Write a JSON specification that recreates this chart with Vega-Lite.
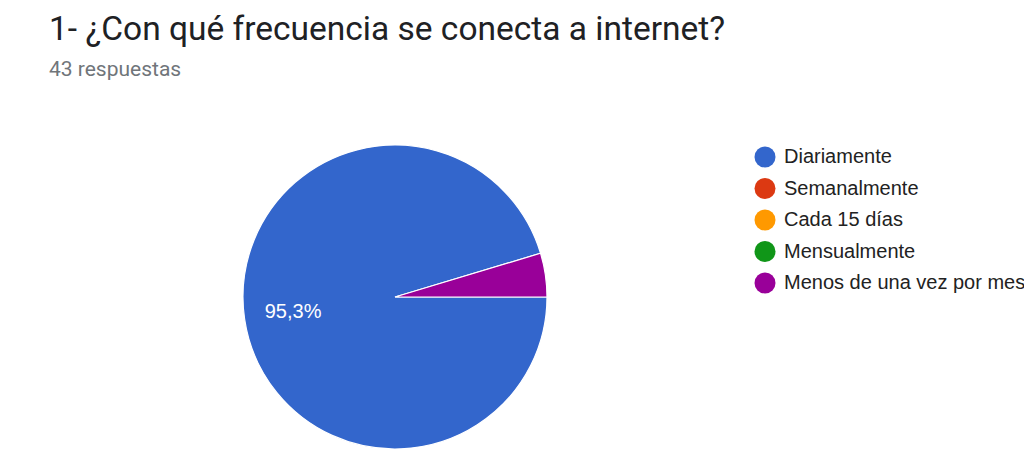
{
  "$schema": "https://vega.github.io/schema/vega-lite/v6.json",
  "width": 304,
  "height": 304,
  "autosize": {"type": "none"},
  "padding": {"left": 243, "top": 145, "right": 477, "bottom": 1},
  "background": "white",
  "config": {"view": {"stroke": null}},
  "title": {
    "text": "1- ¿Con qué frecuencia se conecta a internet?",
    "subtitle": "43 respuestas",
    "anchor": "start",
    "frame": "group",
    "dx": -194,
    "offset": 62,
    "font": "Roboto",
    "fontSize": 33.5,
    "fontWeight": "normal",
    "color": "#202124",
    "subtitleFont": "Roboto",
    "subtitleFontSize": 21,
    "subtitleColor": "#70757a",
    "subtitlePadding": 11
  },
  "data": {
    "values": [
      {"respuesta": "Diariamente", "n": 41, "orden": 1, "etiqueta": "95,3%"},
      {"respuesta": "Semanalmente", "n": 0, "orden": 2, "etiqueta": ""},
      {"respuesta": "Cada 15 días", "n": 0, "orden": 3, "etiqueta": ""},
      {"respuesta": "Mensualmente", "n": 0, "orden": 4, "etiqueta": ""},
      {"respuesta": "Menos de una vez por mes", "n": 2, "orden": 5, "etiqueta": ""}
    ]
  },
  "encoding": {
    "theta": {"field": "n", "type": "quantitative", "stack": true, "scale": {"range": [1.5708, 7.8540]}},
    "order": {"field": "orden", "type": "quantitative"},
    "color": {
      "field": "respuesta",
      "type": "nominal",
      "scale": {
        "domain": ["Diariamente", "Semanalmente", "Cada 15 días", "Mensualmente", "Menos de una vez por mes"],
        "range": ["#3366cc", "#dc3912", "#ff9900", "#109618", "#990099"]
      },
      "legend": {
        "title": null,
        "orient": "right",
        "offset": 206,
        "symbolType": "circle",
        "symbolSize": 441,
        "symbolStrokeWidth": 0,
        "symbolOpacity": 1,
        "labelFont": "Liberation Sans",
        "labelFontSize": 20,
        "labelColor": "#222222",
        "labelLimit": 500,
        "labelOffset": 8.5,
        "rowPadding": 10.5,
        "padding": 1.5
      }
    }
  },
  "layer": [
    {
      "transform": [{"filter": "datum.n > 0"}],
      "mark": {"type": "arc", "stroke": "white", "strokeWidth": 1.2}
    },
    {
      "transform": [{"filter": "datum.n > 0"}],
      "mark": {"type": "text", "radius": 103, "font": "Liberation Sans", "fontSize": 20, "fill": "white"},
      "encoding": {
        "text": {"field": "etiqueta", "type": "nominal"},
        "color": {"value": "white"}
      }
    }
  ]
}
